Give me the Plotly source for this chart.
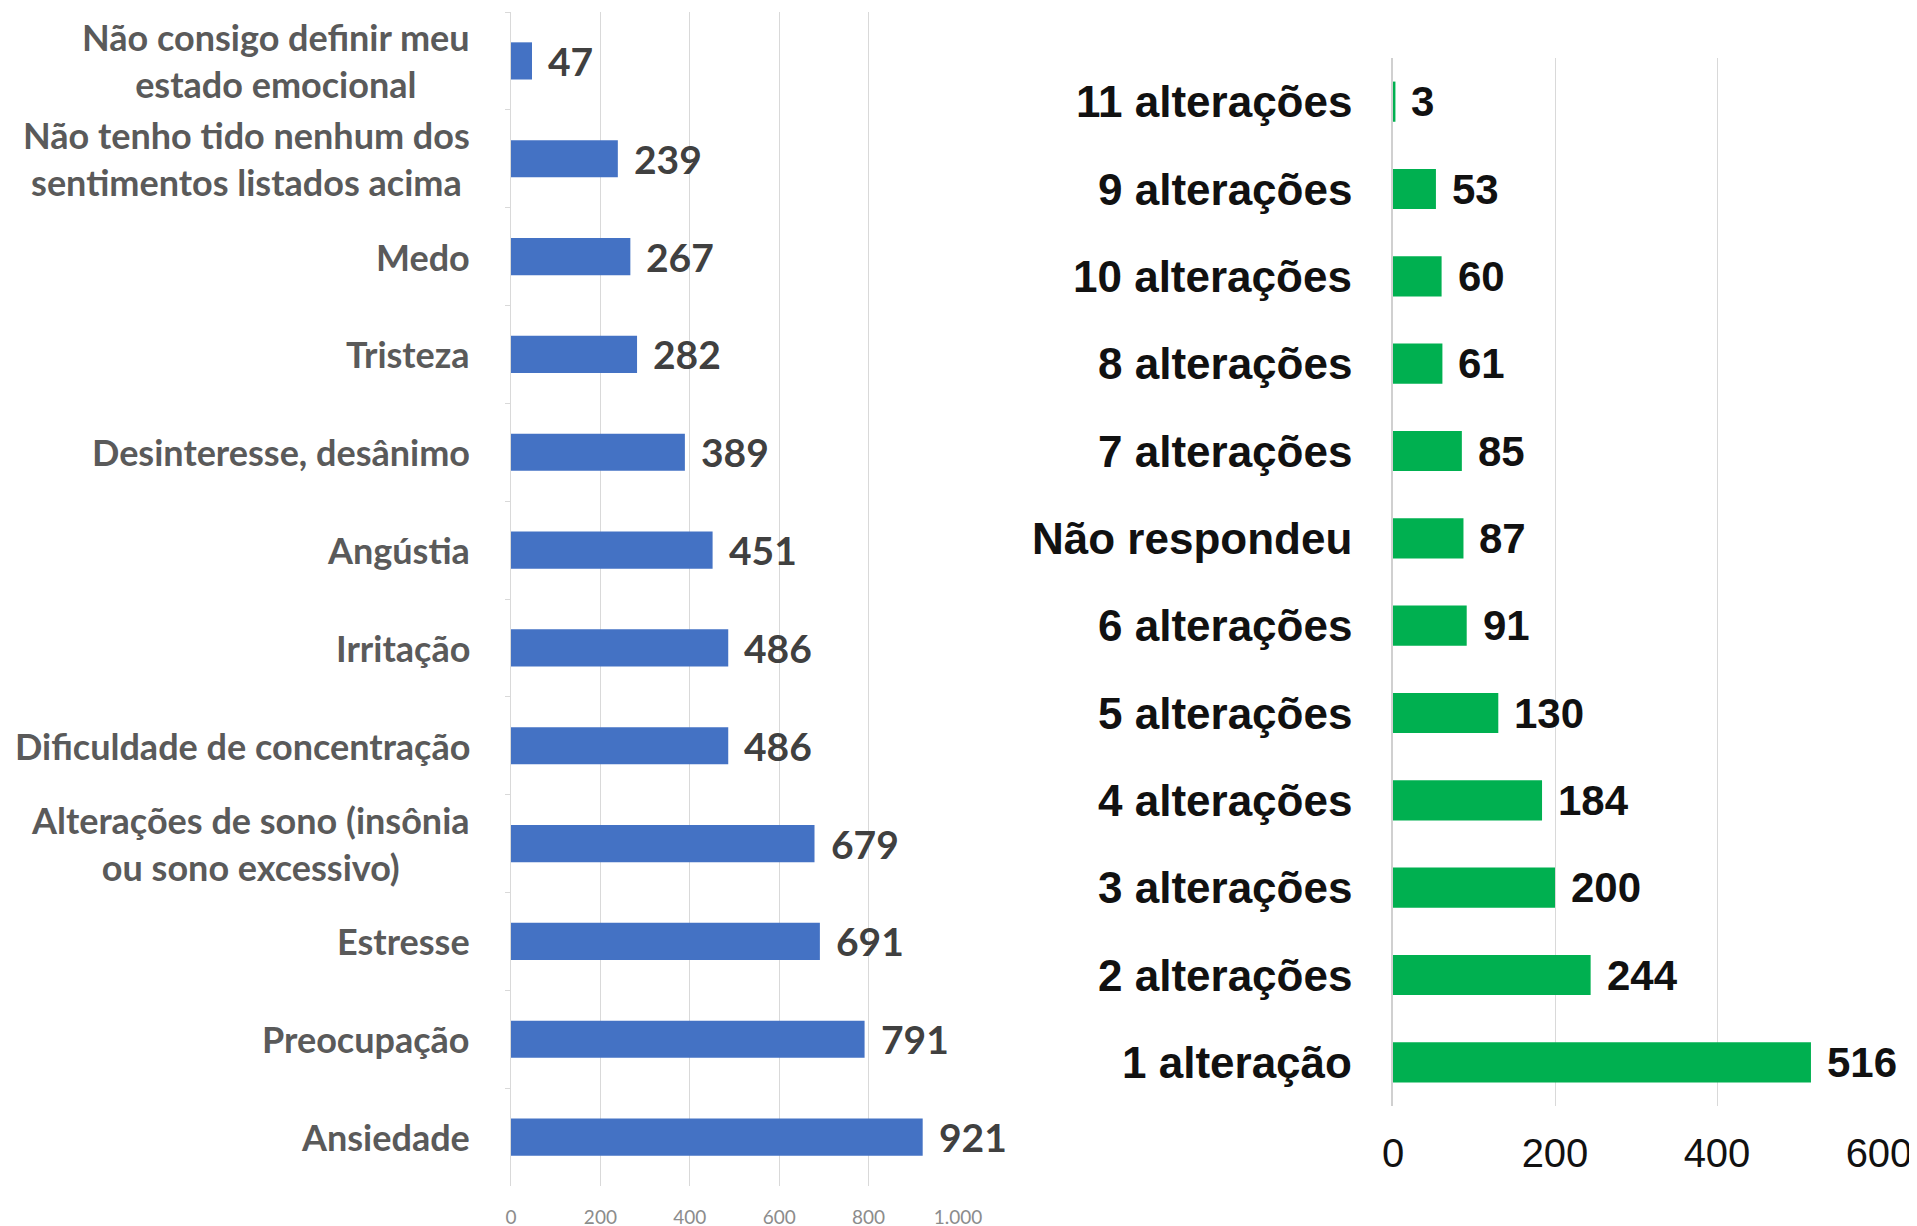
import plotly.graph_objects as go

# ---- Data ----
left_categories = [
    "Não consigo definir meu<br>estado emocional",
    "Não tenho tido nenhum dos<br>sentimentos listados acima",
    "Medo",
    "Tristeza",
    "Desinteresse, desânimo",
    "Angústia",
    "Irritação",
    "Dificuldade de concentração",
    "Alterações de sono (insônia<br>ou sono excessivo)",
    "Estresse",
    "Preocupação",
    "Ansiedade",
]
left_values = [47, 239, 267, 282, 389, 451, 486, 486, 679, 691, 791, 921]
left_tickvals = [0, 200, 400, 600, 800, 1000]
left_ticktext = ["0", "200", "400", "600", "800", "1.000"]

right_categories = [
    "11 alterações", "9 alterações", "10 alterações", "8 alterações",
    "7 alterações", "Não respondeu", "6 alterações", "5 alterações",
    "4 alterações", "3 alterações", "2 alterações", "1 alteração",
]
right_values = [3, 53, 60, 61, 85, 87, 91, 130, 184, 200, 244, 516]
right_tickvals = [0, 200, 400, 600]

W, H = 1917, 1226
OFF = 8  # page body margin offset


def px_x(p):
    return (p - OFF) / W


def px_y(p):
    return 1 - (p - OFF) / H


fig = go.Figure()

fig.add_trace(go.Bar(
    x=left_values, y=left_categories, orientation="h",
    marker=dict(color="#4472C4", line=dict(width=0)),
    width=0.38, xaxis="x", yaxis="y", showlegend=False,
))
fig.add_trace(go.Bar(
    x=right_values, y=right_categories, orientation="h",
    marker=dict(color="#00B050", line=dict(width=0)),
    width=0.46, xaxis="x2", yaxis="y2", showlegend=False,
))

annotations = []
left_label_font = dict(family="Lato", size=36, color="#5A5A5A")
left_value_font = dict(family="Lato", size=39, color="#404040")
for c, v in zip(left_categories, left_values):
    annotations.append(dict(
        x=0, y=c, xref="x", yref="y",
        text="<b>" + c.replace("<br>", "</b><br><b>") + "</b>",
        xanchor="right", yanchor="middle", xshift=-39, align="center",
        showarrow=False, font=left_label_font,
    ))
    annotations.append(dict(
        x=v, y=c, xref="x", yref="y", text="<b>%d</b>" % v,
        xanchor="left", yanchor="middle", xshift=14, showarrow=False,
        font=left_value_font,
    ))

right_label_font = dict(family="Liberation Sans", size=44, color="#111111")
right_value_font = dict(family="Liberation Sans", size=42, color="#111111")
for c, v in zip(right_categories, right_values):
    annotations.append(dict(
        x=0, y=c, xref="x2", yref="y2", text="<b>" + c + "</b>",
        xanchor="right", yanchor="middle", xshift=-39,
        showarrow=False, font=right_label_font,
    ))
    annotations.append(dict(
        x=v, y=c, xref="x2", yref="y2", text="<b>%d</b>" % v,
        xanchor="left", yanchor="middle", xshift=14, showarrow=False,
        font=right_value_font,
    ))

fig.update_layout(
    width=W, height=H,
    margin=dict(l=0, r=0, t=0, b=0, pad=0, autoexpand=False),
    paper_bgcolor="white", plot_bgcolor="white",
    showlegend=False,
    xaxis=dict(
        domain=[px_x(511), px_x(958)], range=[0, 1000], anchor="y",
        tickvals=left_tickvals, ticktext=left_ticktext,
        showgrid=True, gridcolor="#D9D9D9", gridwidth=1,
        zeroline=False, showline=False, ticks="", automargin=False,
        tickfont=dict(family="Lato", size=19, color="#8C8C8C"),
        ticklabelstandoff=18,
    ),
    yaxis=dict(
        domain=[px_y(1186), px_y(12)], anchor="x",
        categoryorder="array", categoryarray=left_categories,
        range=[len(left_categories) - 0.5, -0.5],
        showticklabels=False, showgrid=False, zeroline=False,
        showline=True, linecolor="#D9D9D9", linewidth=1, automargin=False,
        ticks="outside", ticklen=5, tickcolor="#D9D9D9", tickson="boundaries",
    ),
    xaxis2=dict(
        domain=[px_x(1393), px_x(1879)], range=[0, 600], anchor="y2",
        tickvals=right_tickvals,
        showgrid=True, gridcolor="#D9D9D9", gridwidth=1,
        zeroline=False, showline=False, ticks="", automargin=False,
        tickfont=dict(family="Liberation Sans", size=40, color="#111111"),
        ticklabelstandoff=20,
    ),
    yaxis2=dict(
        domain=[px_y(1106), px_y(58)], anchor="x2",
        categoryorder="array", categoryarray=right_categories,
        range=[len(right_categories) - 0.5, -0.5],
        showticklabels=False, showgrid=False, zeroline=False, automargin=False,
        showline=True, linecolor="#D0D0D0", linewidth=2,
    ),
    annotations=annotations,
)

fig.write_html("out.html")
